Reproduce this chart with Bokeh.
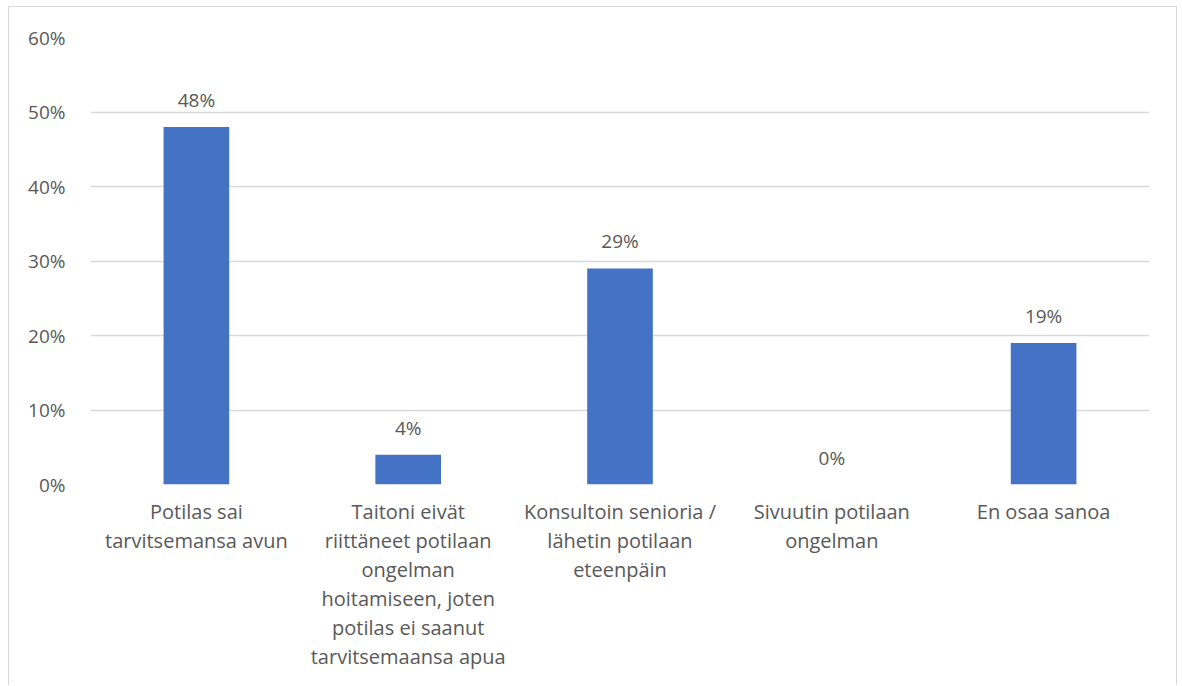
from bokeh.plotting import figure
from bokeh.models import ColumnDataSource, FactorRange, Range1d, NumeralTickFormatter, FixedTicker
from bokeh.core.properties import value
from bokeh.embed import file_html
from bokeh.resources import INLINE

categories = [
    "Potilas sai\ntarvitsemansa avun",
    "Taitoni eivät\nriittäneet potilaan\nongelman\nhoitamiseen, joten\npotilas ei saanut\ntarvitsemaansa apua",
    "Konsultoin senioria /\nlähetin potilaan\neteenpäin",
    "Sivuutin potilaan\nongelman",
    "En osaa sanoa",
]
values = [0.48, 0.04, 0.29, 0.0, 0.19]
value_labels = ["48%", "4%", "29%", "0%", "19%"]
y_ticks = [0, 0.1, 0.2, 0.3, 0.4, 0.5, 0.6]

FONT = "Open Sans"
TXT = "#595959"

src = ColumnDataSource(dict(cat=categories, val=values, lab=value_labels))

p = figure(
    x_range=FactorRange(*categories, range_padding=0),
    y_range=Range1d(0, 0.6),
    width=1169, height=679,
    output_backend="svg", toolbar_location=None,
    min_border_left=81, min_border_right=29, min_border_top=30, min_border_bottom=202,
)
p.styles = {
    "border-left": "1px solid #d9d9d9",
    "border-right": "1px solid #d9d9d9",
    "border-top": "1px solid #d9d9d9",
    "margin-left": "8px",
    "margin-top": "6px",
}
p.outline_line_color = None
p.background_fill_color = "white"
p.border_fill_color = "white"

p.vbar(x="cat", top="val", width=0.31, source=src, color="#4472C4", line_color=None)

p.text(x="cat", y="val", text="lab", source=src, y_offset=-14,
       text_align="center", text_baseline="bottom",
       text_font=value(FONT), text_font_size="19px", text_color=TXT)

p.xgrid.grid_line_color = None
p.ygrid.grid_line_color = "#d9d9d9"
p.ygrid.grid_line_width = 1.3
p.yaxis.ticker = FixedTicker(ticks=y_ticks)
p.yaxis.formatter = NumeralTickFormatter(format="0%")

for ax in (p.xaxis, p.yaxis):
    ax.axis_line_color = None
    ax.major_tick_line_color = None
    ax.minor_tick_line_color = None
    ax.major_label_text_font = FONT
    ax.major_label_text_color = TXT

p.yaxis.major_label_text_font_size = "19px"
p.xaxis.major_label_text_font_size = "20px"
p.yaxis.major_label_standoff = 19
p.xaxis.major_label_standoff = 7
p.xaxis.major_label_text_line_height = 1.08
p.xaxis.major_label_text_align = "center"

open("out.html", "w").write(file_html(p, INLINE))
